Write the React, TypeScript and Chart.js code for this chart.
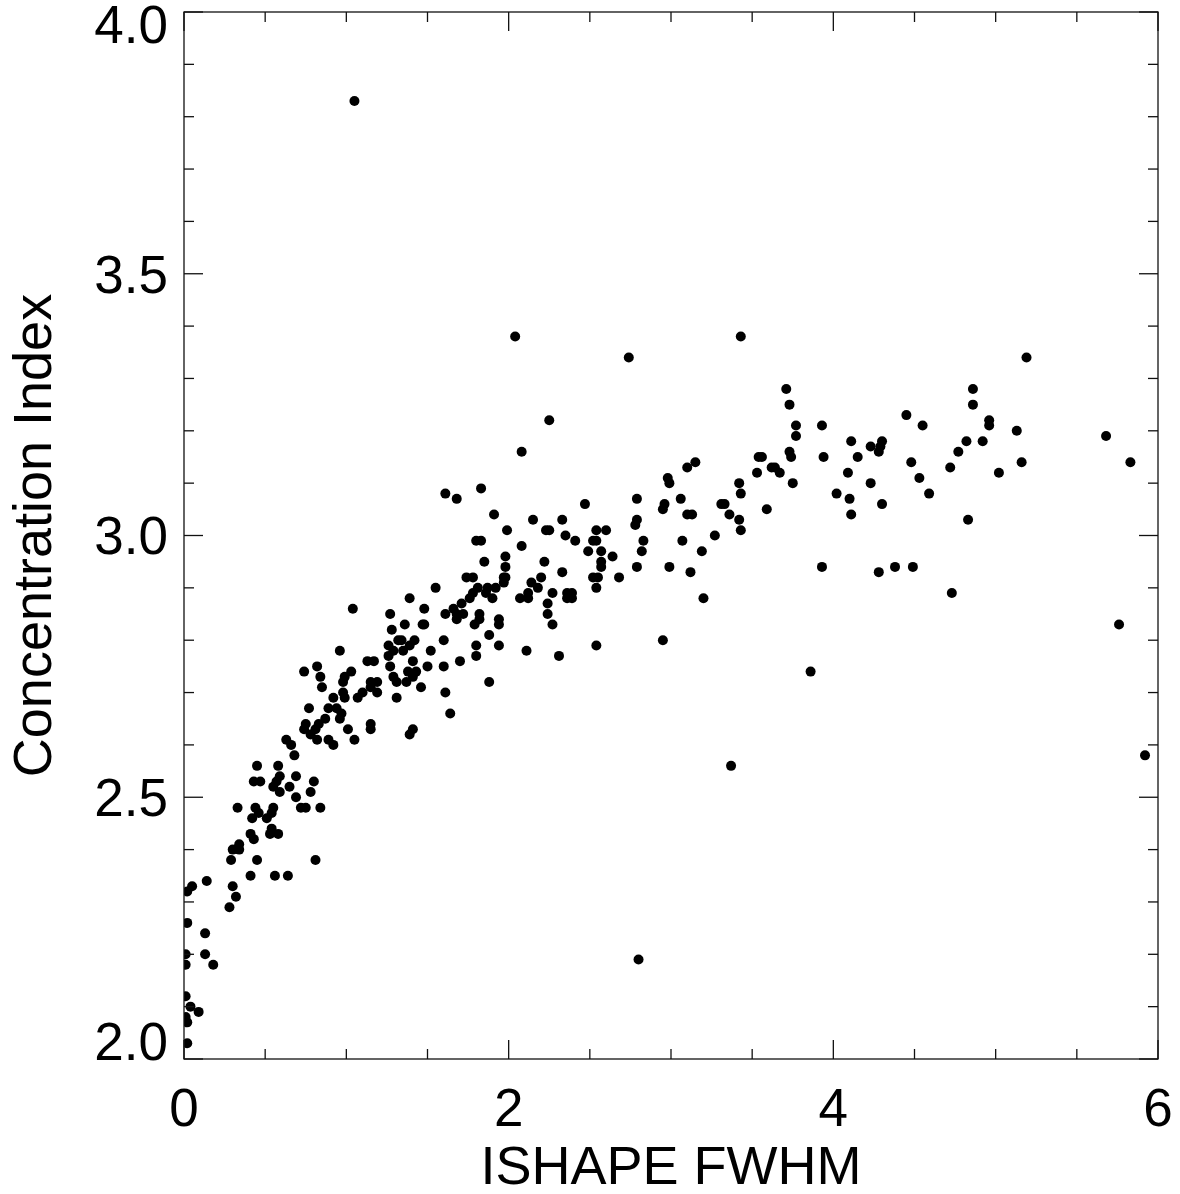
import React, { useEffect, useRef } from 'react';
import { Chart, registerables } from 'chart.js';

Chart.register(...registerables);

// ISHAPE FWHM (x) and Concentration Index (y)
const fwhm = [
  0.02, 0.05, 0.30, 0.32, 0.28, 0.02, 0.13, 0.01, 0.13, 0.01, 0.18, 0.01, 0.04, 0.09, 0.01, 0.02, 0.02,
  0.14, 0.41, 0.56, 0.64, 0.29, 0.45, 0.81, 0.34, 0.30, 0.34,
  0.41, 0.43, 0.54, 0.53, 0.58, 0.33, 0.44, 0.46, 0.55, 0.54,
  0.51, 0.42, 0.72, 0.75, 0.84, 0.45, 0.58, 0.43, 0.47, 0.59,
  0.57, 0.55, 0.59, 0.65, 0.69, 0.69, 0.80, 0.78, 0.68, 0.63,
  0.66, 0.75, 0.74, 0.83, 0.81, 0.78, 0.82, 0.89, 0.92, 1.01,
  1.05, 1.15, 1.15, 0.77, 0.89, 0.94, 0.97, 0.96, 0.87, 0.98,
  0.99, 1.07, 1.10, 0.92, 0.74, 0.82, 0.84, 0.85, 0.98, 0.99,
  1.03, 1.15, 1.15, 1.19, 1.19, 1.29, 1.31, 1.37, 1.38, 1.41,
  1.43, 1.46, 1.31, 1.64, 1.39, 1.41, 0.96, 1.13, 1.17, 1.27,
  1.41, 1.50, 1.52, 1.26, 1.29, 1.26, 1.35, 1.32, 1.34, 1.42,
  1.39, 1.28, 1.36, 1.47, 1.48, 1.27, 1.48, 1.04, 1.39, 1.55,
  2.04, 3.43, 2.74, 2.25, 2.08, 3.56, 3.54, 3.15, 3.10, 3.53,
  2.98, 2.99, 3.42, 3.43, 3.59, 1.61, 1.68, 1.83, 2.47, 2.79,
  2.96, 2.95, 3.06, 3.31, 3.33, 3.36, 3.42, 3.43, 3.10, 3.13,
  3.27, 3.07, 3.19, 2.99, 3.12, 3.20, 2.95, 2.79, 2.78, 2.83,
  2.82, 2.79, 1.91, 2.15, 2.33, 1.99, 2.23, 2.25, 2.54, 2.60,
  2.35, 2.41, 2.52, 2.54, 1.80, 1.83, 2.08, 1.98, 1.98, 1.85,
  2.49, 2.57, 2.64, 2.57, 2.57, 2.22, 2.33, 1.74, 1.78, 1.97,
  1.98, 1.97, 2.20, 2.52, 2.55, 2.68, 2.54, 2.14, 2.18, 1.81,
  1.87, 1.92, 1.86, 1.90, 1.78, 1.76, 1.71, 1.66, 1.61, 1.68,
  1.72, 1.68, 1.82, 1.82, 1.79, 1.94, 1.94, 1.88, 2.07, 2.12,
  2.12, 2.27, 2.36, 2.39, 2.36, 2.39, 2.24, 2.24, 2.27, 1.60,
  1.80, 1.94, 1.80, 2.11, 2.31, 2.54, 1.70, 1.60, 1.88, 1.61,
  5.19, 3.71, 3.73, 4.86, 4.86, 4.45, 4.55, 4.96, 4.96, 3.77,
  3.93, 3.77, 5.13, 5.68, 4.11, 4.30, 4.29, 4.28, 4.23, 4.82,
  4.92, 3.73, 3.74, 3.94, 4.15, 4.77, 4.48, 5.16, 5.83, 3.62,
  3.64, 3.67, 4.09, 4.72, 4.53, 5.02, 3.75, 4.23, 4.02, 4.10,
  4.59, 4.30, 4.11, 4.83, 3.93, 4.28, 4.38, 4.49, 4.73,
  3.86, 5.76, 5.92, 3.37, 2.80, 1.05,
];

const concIdx = [
  2.32, 2.33, 2.33, 2.31, 2.29, 2.26, 2.24, 2.20, 2.20, 2.18, 2.18, 2.12, 2.10, 2.09, 2.08, 2.07, 2.03,
  2.34, 2.35, 2.35, 2.35, 2.38, 2.38, 2.38, 2.41, 2.40, 2.40,
  2.43, 2.42, 2.44, 2.43, 2.43, 2.48, 2.48, 2.47, 2.48, 2.47,
  2.46, 2.46, 2.48, 2.48, 2.48, 2.56, 2.56, 2.53, 2.53, 2.54,
  2.53, 2.52, 2.51, 2.52, 2.54, 2.50, 2.53, 2.51, 2.58, 2.61,
  2.60, 2.64, 2.63, 2.64, 2.63, 2.62, 2.61, 2.61, 2.60, 2.63,
  2.61, 2.64, 2.63, 2.67, 2.67, 2.67, 2.66, 2.65, 2.65, 2.70,
  2.69, 2.69, 2.70, 2.69, 2.74, 2.75, 2.73, 2.71, 2.72, 2.73,
  2.74, 2.72, 2.71, 2.72, 2.70, 2.73, 2.72, 2.72, 2.74, 2.73,
  2.74, 2.71, 2.69, 2.66, 2.62, 2.63, 2.78, 2.76, 2.76, 2.75,
  2.76, 2.75, 2.78, 2.79, 2.78, 2.77, 2.78, 2.80, 2.80, 2.80,
  2.79, 2.82, 2.83, 2.83, 2.83, 2.85, 2.86, 2.86, 2.88, 2.90,
  3.38, 3.38, 3.34, 3.22, 3.16, 3.15, 3.15, 3.14, 3.13, 3.12,
  3.11, 3.10, 3.10, 3.08, 3.05, 3.08, 3.07, 3.09, 3.06, 3.07,
  3.06, 3.05, 3.07, 3.06, 3.06, 3.04, 3.03, 3.01, 3.04, 3.04,
  3.00, 2.99, 2.97, 2.94, 2.93, 2.88, 2.80, 3.03, 3.02, 2.99,
  2.97, 2.94, 3.04, 3.03, 3.03, 3.01, 3.01, 3.01, 3.01, 3.01,
  3.00, 2.99, 2.99, 2.99, 2.99, 2.99, 2.98, 2.96, 2.94, 2.95,
  2.97, 2.97, 2.96, 2.95, 2.94, 2.95, 2.93, 2.92, 2.92, 2.92,
  2.92, 2.91, 2.92, 2.92, 2.92, 2.92, 2.90, 2.91, 2.90, 2.90,
  2.90, 2.90, 2.89, 2.88, 2.89, 2.88, 2.87, 2.86, 2.85, 2.85,
  2.85, 2.84, 2.85, 2.84, 2.83, 2.84, 2.83, 2.81, 2.88, 2.89,
  2.88, 2.89, 2.89, 2.89, 2.88, 2.88, 2.87, 2.85, 2.83, 2.80,
  2.79, 2.79, 2.77, 2.78, 2.77, 2.79, 2.76, 2.75, 2.72, 2.70,
  3.34, 3.28, 3.25, 3.28, 3.25, 3.23, 3.21, 3.22, 3.21, 3.21,
  3.21, 3.19, 3.20, 3.19, 3.18, 3.18, 3.17, 3.16, 3.17, 3.18,
  3.18, 3.16, 3.15, 3.15, 3.15, 3.16, 3.14, 3.14, 3.14, 3.13,
  3.13, 3.12, 3.12, 3.13, 3.11, 3.12, 3.10, 3.10, 3.08, 3.07,
  3.08, 3.06, 3.04, 3.03, 2.94, 2.93, 2.94, 2.94, 2.89,
  2.74, 2.83, 2.58, 2.56, 2.19, 3.83,
];

const xTickLabels = ['0', '2', '4', '6'];
const yTickLabels = ['2.0', '2.5', '3.0', '3.5', '4.0'];
const xTitle = 'ISHAPE FWHM';
const yTitle = 'Concentration Index';

const FONT = '"Liberation Sans", Arial, Helvetica, sans-serif';

const findLabel = (labels: string[], v: number) =>
  labels.find((l) => Math.abs(parseFloat(l) - v) < 1e-6);

const frameAndTicks = {
  id: 'frameAndTicks',
  afterDatasetsDraw(chart: any) {
    const { ctx, chartArea: a, scales } = chart;
    const xs = scales.x;
    const ys = scales.y;
    ctx.save();
    ctx.strokeStyle = '#111';
    ctx.lineWidth = 1.3;
    ctx.strokeRect(a.left, a.top, a.right - a.left, a.bottom - a.top);
    const seg = (x1: number, y1: number, x2: number, y2: number) => {
      ctx.beginPath();
      ctx.moveTo(x1, y1);
      ctx.lineTo(x2, y2);
      ctx.stroke();
    };
    xs.ticks.forEach((t: any) => {
      const px = xs.getPixelForValue(t.value);
      const len = findLabel(xTickLabels, t.value) !== undefined ? 19 : 10;
      seg(px, a.bottom, px, a.bottom - len);
      seg(px, a.top, px, a.top + len);
    });
    ys.ticks.forEach((t: any) => {
      const py = ys.getPixelForValue(t.value);
      const len = findLabel(yTickLabels, t.value) !== undefined ? 19 : 10;
      seg(a.left, py, a.left + len, py);
      seg(a.right, py, a.right - len, py);
    });
    // y tick labels, kept inside the frame's height like the original
    const fs = 53;
    ctx.font = `${fs}px ${FONT}`;
    ctx.fillStyle = '#000';
    ctx.textAlign = 'right';
    ctx.textBaseline = 'alphabetic';
    ys.ticks.forEach((t: any) => {
      const lab = findLabel(yTickLabels, t.value);
      if (lab === undefined) return;
      const py = ys.getPixelForValue(t.value);
      const c = Math.min(Math.max(py, a.top + 12), a.bottom - 18);
      ctx.fillText(lab, a.left - 16, c + 0.358 * fs);
    });
    ctx.restore();
  },
};

export default function App() {
  const ref = useRef<HTMLCanvasElement | null>(null);

  useEffect(() => {
    if (!ref.current) return;
    const chart = new Chart(ref.current, {
      type: 'scatter',
      data: {
        datasets: [
          {
            data: fwhm.map((x, i) => ({ x, y: concIdx[i] })),
            pointRadius: 5,
            pointHoverRadius: 5,
            pointBackgroundColor: '#000',
            pointBorderWidth: 0,
            borderWidth: 0,
          },
        ],
      },
      options: {
        animation: false,
        responsive: false,
        events: [],
        layout: { padding: { top: 12, right: 22, left: 0, bottom: 0 } },
        plugins: { legend: { display: false }, tooltip: { enabled: false } },
        scales: {
          x: {
            type: 'linear',
            min: 0,
            max: 6,
            afterFit: (s: any) => {
              s.height = 135;
              s.paddingLeft = 0;
              s.paddingRight = 0;
            },
            grid: { display: false, drawTicks: false },
            border: { display: false },
            ticks: {
              stepSize: 0.5,
              autoSkip: false,
              maxRotation: 0,
              padding: 21,
              color: '#000',
              font: { family: FONT, size: 53 },
              callback: (v: any) => findLabel(xTickLabels, Number(v)) ?? '',
            },
            title: {
              display: true,
              text: xTitle,
              color: '#000',
              padding: { top: 0, bottom: 0 },
              font: { family: FONT, size: 54, lineHeight: 0.94 },
            },
          },
          y: {
            type: 'linear',
            min: 2,
            max: 4,
            afterFit: (s: any) => {
              s.width = 184;
              s.paddingTop = 0;
              s.paddingBottom = 0;
            },
            grid: { display: false, drawTicks: false },
            border: { display: false },
            ticks: { stepSize: 0.1, display: false, autoSkip: false },
            title: {
              display: true,
              text: yTitle,
              color: '#000',
              padding: { top: 4, bottom: 0 },
              font: { family: FONT, size: 54 },
            },
          },
        },
      },
      plugins: [frameAndTicks],
    });
    return () => chart.destroy();
  }, []);

  return (
    <div
      style={{
        position: 'fixed',
        left: 0,
        top: 0,
        width: 1180,
        height: 1194,
        background: '#fff',
      }}
    >
      <canvas ref={ref} width={1180} height={1194} style={{ display: 'block' }} />
    </div>
  );
}
